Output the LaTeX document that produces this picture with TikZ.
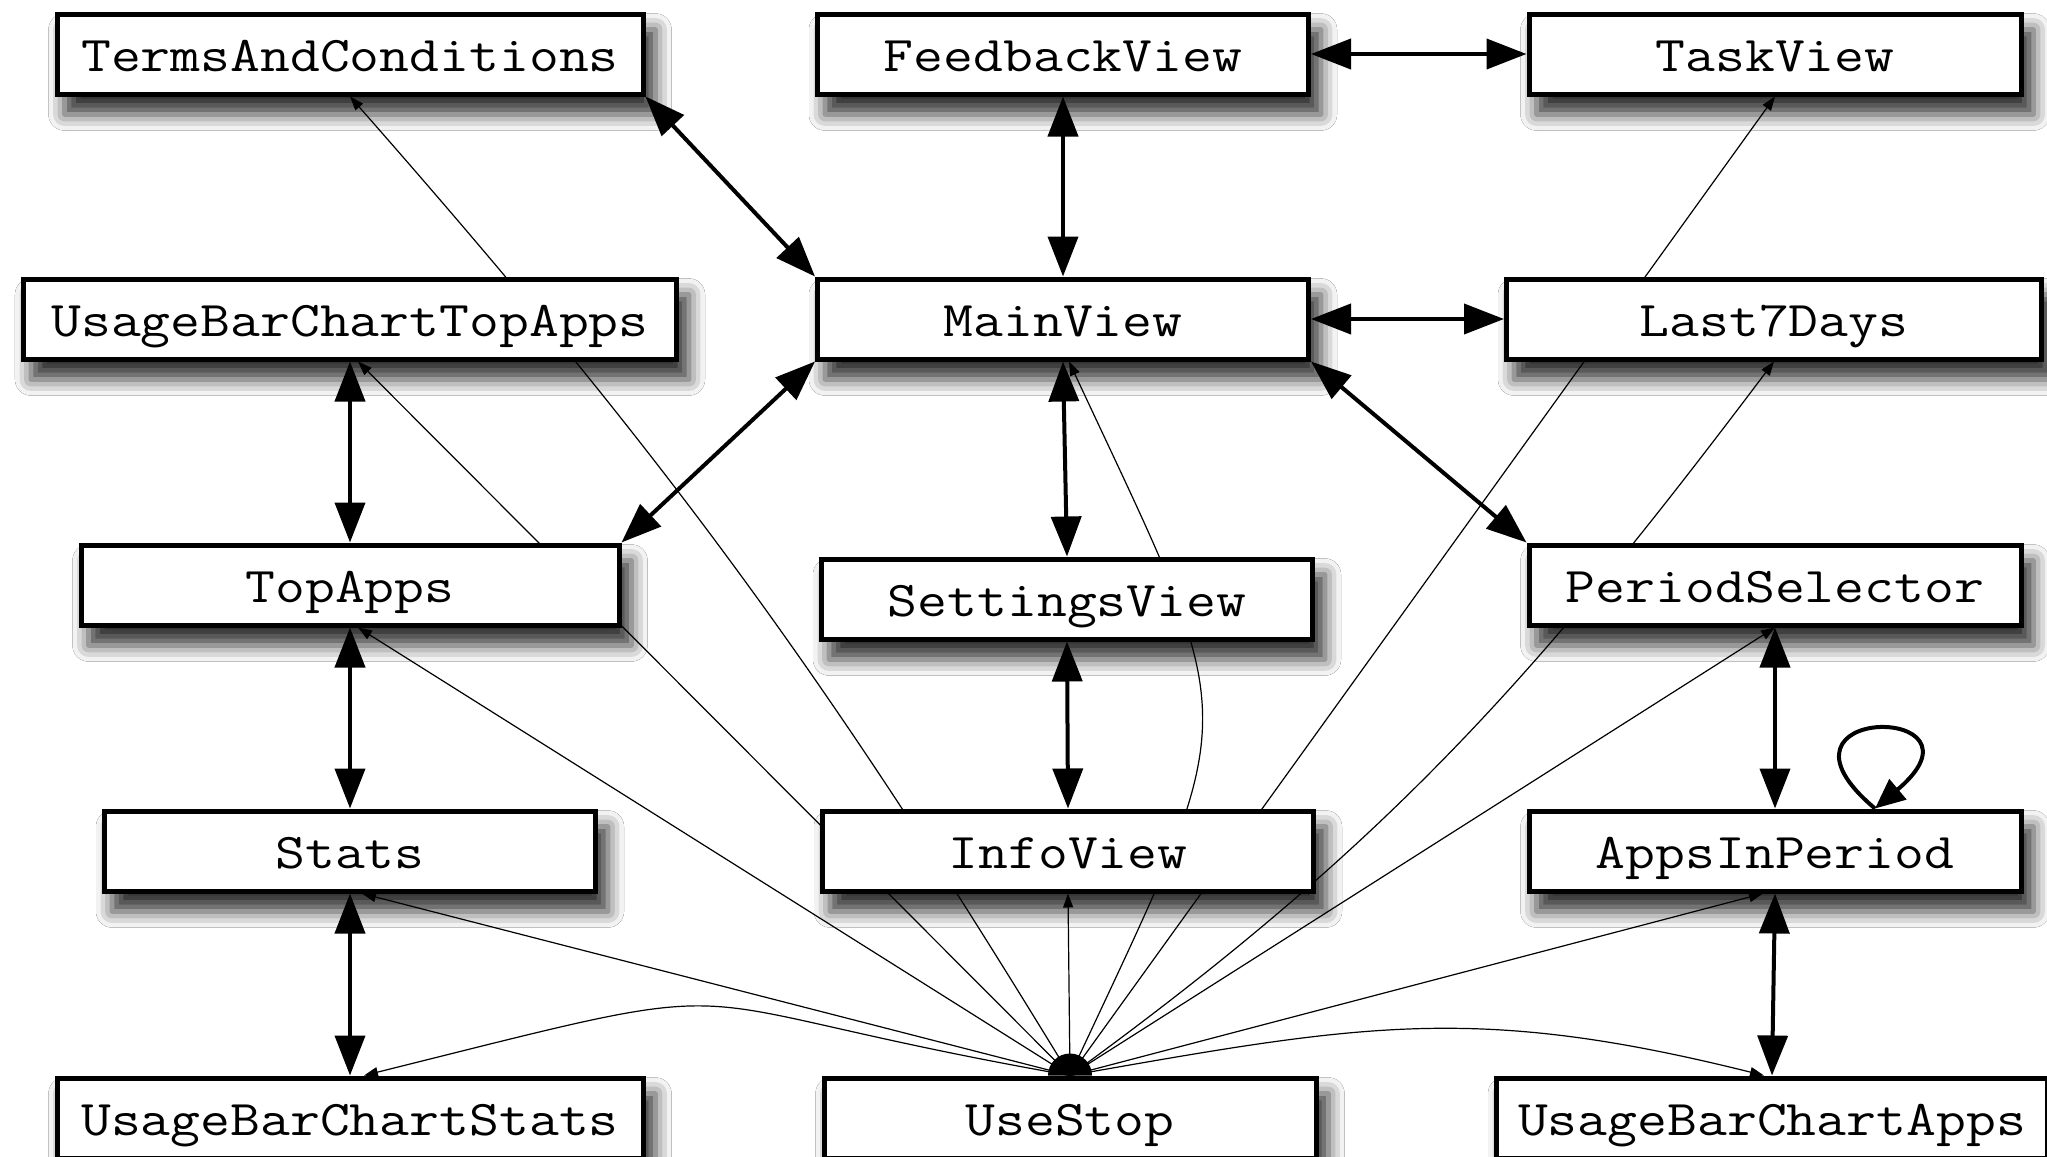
\documentclass[tikz,border=0pt]{standalone}
\usepackage{fontspec}
\usepackage{graphicx}
\usetikzlibrary{arrows.meta,shadows.blur,backgrounds}

\newcommand{\vname}[1]{\scalebox{1.16}[1]{#1}}

\tikzset{
  view/.style={draw, line width=2.5pt, fill=white, minimum height=40pt,
    font=\ttfamily\fontsize{25}{30}\selectfont, text height=17.5pt, text depth=0pt},
  viewshadow/.style={blur shadow={shadow xshift=5pt, shadow yshift=-9pt,
    shadow blur radius=8pt, shadow opacity=80}},
  nav/.style={line width=2pt, {Triangle[length=20pt,width=15pt,fill=black]}-{Triangle[length=20pt,width=15pt,fill=black]}},
  call/.style={line width=0.6pt, -{Triangle[length=7pt,width=5pt,fill=black]}},
}

\begin{document}
\begin{tikzpicture}[x=0.5pt, y=0.5pt]
    \useasboundingbox (0,0) rectangle (2047,-1157);
    % views
    \node[view, minimum width=293pt]   (terms)    at (350,-54)   {\vname{TermsAndConditions}};
    \node[view, minimum width=245.5pt] (feedback) at (1063,-54)  {\vname{FeedbackView}};
    \node[view, minimum width=246pt]   (task)     at (1775,-54)  {\vname{TaskView}};
    \node[view, minimum width=326.5pt] (bartop)   at (350,-319)  {\vname{UsageBarChartTopApps}};
    \node[view, minimum width=245.5pt] (mainv)    at (1063,-319) {\vname{MainView}};
    \node[view, minimum width=267.5pt] (last7)    at (1774,-319) {\vname{Last7Days}};
    \node[view, minimum width=269pt]   (topapps)  at (350,-585)  {\vname{TopApps}};
    \node[view, minimum width=245.5pt] (settings) at (1067,-599) {\vname{SettingsView}};
    \node[view, minimum width=246pt]   (period)   at (1775,-585) {\vname{PeriodSelector}};
    \node[view, minimum width=245.5pt] (stats)    at (350,-851)  {\vname{Stats}};
    \node[view, minimum width=245.5pt] (info)     at (1068,-851) {\vname{InfoView}};
    \node[view, minimum width=246pt]   (inperiod) at (1775,-851) {\vname{AppsInPeriod}};
    \node[view, minimum width=293pt]   (barstats) at (350,-1118) {\vname{UsageBarChartStats}};
    \node[view, minimum width=246pt]   (usestop)  at (1070,-1118) {\vname{UseStop}};
    \node[view, minimum width=275.5pt] (barapps)  at (1772,-1118) {\vname{UsageBarChartApps}};

    \begin{pgfonlayer}{background}
        \fill[white] (0,0) rectangle (2047,-1157);
        \foreach \v in {terms,feedback,task,bartop,mainv,last7,topapps,settings,period,stats,info,inperiod,barstats,usestop,barapps}
            \path[viewshadow] (\v.north west) rectangle (\v.south east);
        % calls from UseStop
        \draw[call] (usestop.north) to[bend right=5] (terms.south);
        \draw[call] (usestop.north) -- ([xshift=4pt]bartop.south);
        \draw[call] (usestop.north) -- ([xshift=4pt]topapps.south);
        \draw[call] (usestop.north) -- ([xshift=6pt]stats.south);
        \draw[call] (usestop.north) to[out=170, in=14, looseness=1.6] ([xshift=7pt]barstats.north);
        \draw[call] (usestop.north) -- (info.south);
        \draw[call] (usestop.north) to[out=65, in=-65, looseness=1.5] ([xshift=3pt]mainv.south);
        \draw[call] (usestop.north) -- (task.south);
        \draw[call] (usestop.north) to[out=36, in=233] (last7.south);
        \draw[call] (usestop.north) -- (period.south);
        \draw[call] (usestop.north) -- ([xshift=-6pt]inperiod.south);
        \draw[call] (usestop.north) to[out=10, in=166, looseness=1.1] ([xshift=-4pt]barapps.north);
    \end{pgfonlayer}
    \fill ([xshift=-11pt]usestop.north) arc[start angle=180, end angle=0, radius=11pt] -- cycle;

    % navigation
    \draw[nav] (feedback.east) -- (task.west);
    \draw[nav] (terms.south east) -- (mainv.north west);
    \draw[nav] (feedback.south) -- (mainv.north);
    \draw[nav] (mainv.east) -- (last7.west);
    \draw[nav] (bartop.south) -- (topapps.north);
    \draw[nav] (topapps.north east) -- (mainv.south west);
    \draw[nav] (mainv.south) -- (settings.north);
    \draw[nav] (mainv.south east) -- (period.north west);
    \draw[nav] (topapps.south) -- (stats.north);
    \draw[nav] (settings.south) -- (info.north);
    \draw[nav] (period.south) -- (inperiod.north);
    \draw[nav] (stats.south) -- (barstats.north);
    \draw[nav] (inperiod.south) -- (barapps.north);
    \draw[line width=2pt, -{Triangle[length=15pt,width=13pt,fill=black]}] ([xshift=50pt]inperiod.north)
        to[out=140, in=40, min distance=82pt] ([xshift=50pt]inperiod.north);
\end{tikzpicture}
\end{document}
